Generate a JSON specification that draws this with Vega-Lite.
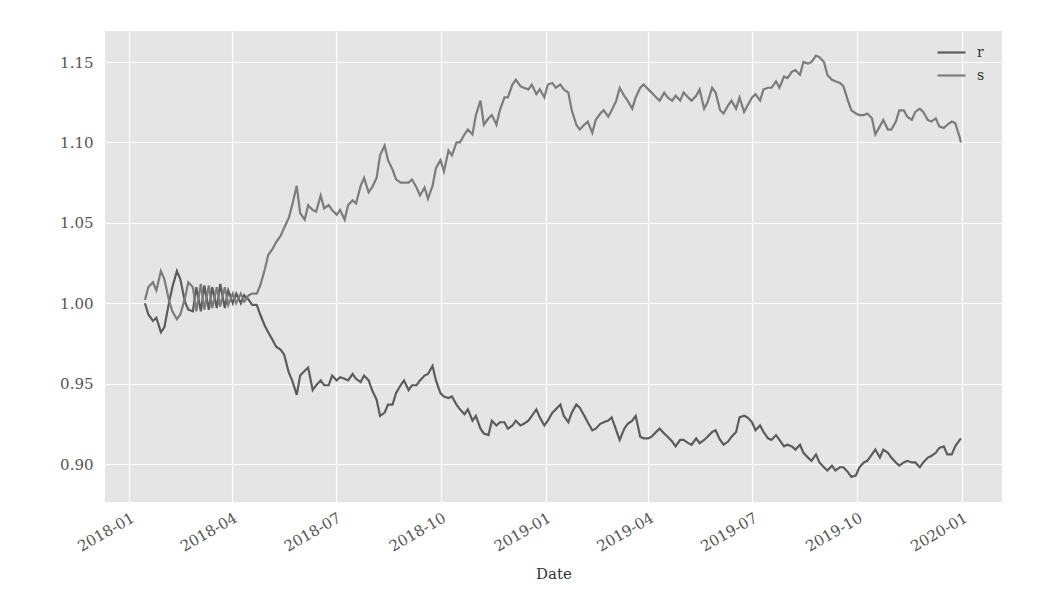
{
  "$schema": "https://vega.github.io/schema/vega-lite/v6.json",
  "autosize": {"type": "none"},
  "width": 897,
  "height": 471,
  "padding": {"left": 105, "top": 31, "right": 42, "bottom": 99},
  "background": "white",
  "config": {
    "view": {"fill": "#E5E5E5", "stroke": null},
    "font": "DejaVu Serif",
    "axis": {"gridColor": "white", "gridWidth": 1.2, "domain": false, "ticks": false, "labelColor": "#555555", "labelFontSize": 15, "titleFontSize": 15, "titleFontWeight": "normal", "titleColor": "#333333"}
  },
  "data": {"values": [
    {"Date":"2018-01-15","s":1.002,"r":1.000},
    {"Date":"2018-01-18","s":1.010,"r":0.993},
    {"Date":"2018-01-22","s":1.013,"r":0.989},
    {"Date":"2018-01-25","s":1.008,"r":0.991},
    {"Date":"2018-01-29","s":1.020,"r":0.982},
    {"Date":"2018-02-01","s":1.015,"r":0.985},
    {"Date":"2018-02-05","s":1.002,"r":1.000},
    {"Date":"2018-02-08","s":0.995,"r":1.010},
    {"Date":"2018-02-12","s":0.990,"r":1.020},
    {"Date":"2018-02-15","s":0.993,"r":1.015},
    {"Date":"2018-02-19","s":1.003,"r":1.001},
    {"Date":"2018-02-22","s":1.013,"r":0.996},
    {"Date":"2018-02-26","s":1.010,"r":0.995},
    {"Date":"2018-03-01","s":0.995,"r":1.010},
    {"Date":"2018-03-05","s":1.012,"r":0.995},
    {"Date":"2018-03-08","s":0.996,"r":1.011},
    {"Date":"2018-03-12","s":1.011,"r":0.996},
    {"Date":"2018-03-15","s":0.997,"r":1.010},
    {"Date":"2018-03-19","s":1.010,"r":0.997},
    {"Date":"2018-03-22","s":0.998,"r":1.012},
    {"Date":"2018-03-26","s":1.010,"r":0.997},
    {"Date":"2018-03-29","s":0.999,"r":1.008},
    {"Date":"2018-04-02","s":1.006,"r":1.000},
    {"Date":"2018-04-05","s":1.000,"r":1.006},
    {"Date":"2018-04-09","s":1.006,"r":1.000},
    {"Date":"2018-04-12","s":1.001,"r":1.005},
    {"Date":"2018-04-16","s":1.005,"r":1.002},
    {"Date":"2018-04-19","s":1.006,"r":0.999},
    {"Date":"2018-04-23","s":1.006,"r":0.999},
    {"Date":"2018-04-26","s":1.011,"r":0.993},
    {"Date":"2018-04-30","s":1.021,"r":0.986},
    {"Date":"2018-05-03","s":1.030,"r":0.982},
    {"Date":"2018-05-07","s":1.034,"r":0.977},
    {"Date":"2018-05-10","s":1.038,"r":0.973},
    {"Date":"2018-05-14","s":1.042,"r":0.971},
    {"Date":"2018-05-17","s":1.047,"r":0.968},
    {"Date":"2018-05-21","s":1.053,"r":0.957},
    {"Date":"2018-05-24","s":1.061,"r":0.952},
    {"Date":"2018-05-28","s":1.073,"r":0.943},
    {"Date":"2018-05-31","s":1.056,"r":0.955},
    {"Date":"2018-06-04","s":1.052,"r":0.958},
    {"Date":"2018-06-07","s":1.061,"r":0.960},
    {"Date":"2018-06-11","s":1.058,"r":0.946},
    {"Date":"2018-06-14","s":1.057,"r":0.949},
    {"Date":"2018-06-18","s":1.067,"r":0.952},
    {"Date":"2018-06-21","s":1.059,"r":0.949},
    {"Date":"2018-06-25","s":1.061,"r":0.949},
    {"Date":"2018-06-28","s":1.058,"r":0.955},
    {"Date":"2018-07-02","s":1.055,"r":0.952},
    {"Date":"2018-07-05","s":1.058,"r":0.954},
    {"Date":"2018-07-09","s":1.052,"r":0.953},
    {"Date":"2018-07-12","s":1.061,"r":0.952},
    {"Date":"2018-07-16","s":1.064,"r":0.956},
    {"Date":"2018-07-19","s":1.062,"r":0.953},
    {"Date":"2018-07-23","s":1.073,"r":0.951},
    {"Date":"2018-07-26","s":1.078,"r":0.955},
    {"Date":"2018-07-30","s":1.069,"r":0.952},
    {"Date":"2018-08-02","s":1.072,"r":0.946},
    {"Date":"2018-08-06","s":1.078,"r":0.940},
    {"Date":"2018-08-09","s":1.092,"r":0.930},
    {"Date":"2018-08-13","s":1.098,"r":0.932},
    {"Date":"2018-08-16","s":1.089,"r":0.937},
    {"Date":"2018-08-20","s":1.083,"r":0.937},
    {"Date":"2018-08-23","s":1.077,"r":0.944},
    {"Date":"2018-08-27","s":1.075,"r":0.949},
    {"Date":"2018-08-30","s":1.075,"r":0.952},
    {"Date":"2018-09-03","s":1.075,"r":0.946},
    {"Date":"2018-09-06","s":1.077,"r":0.949},
    {"Date":"2018-09-10","s":1.072,"r":0.949},
    {"Date":"2018-09-13","s":1.067,"r":0.952},
    {"Date":"2018-09-17","s":1.072,"r":0.955},
    {"Date":"2018-09-20","s":1.065,"r":0.956},
    {"Date":"2018-09-24","s":1.073,"r":0.961},
    {"Date":"2018-09-27","s":1.084,"r":0.952},
    {"Date":"2018-10-01","s":1.089,"r":0.944},
    {"Date":"2018-10-04","s":1.082,"r":0.942},
    {"Date":"2018-10-08","s":1.095,"r":0.941},
    {"Date":"2018-10-11","s":1.092,"r":0.942},
    {"Date":"2018-10-15","s":1.100,"r":0.937},
    {"Date":"2018-10-18","s":1.100,"r":0.934},
    {"Date":"2018-10-22","s":1.105,"r":0.931},
    {"Date":"2018-10-25","s":1.108,"r":0.934},
    {"Date":"2018-10-29","s":1.105,"r":0.927},
    {"Date":"2018-11-01","s":1.117,"r":0.930},
    {"Date":"2018-11-05","s":1.126,"r":0.922},
    {"Date":"2018-11-08","s":1.111,"r":0.919},
    {"Date":"2018-11-12","s":1.115,"r":0.918},
    {"Date":"2018-11-15","s":1.117,"r":0.927},
    {"Date":"2018-11-19","s":1.111,"r":0.924},
    {"Date":"2018-11-22","s":1.120,"r":0.926},
    {"Date":"2018-11-26","s":1.128,"r":0.926},
    {"Date":"2018-11-29","s":1.128,"r":0.922},
    {"Date":"2018-12-03","s":1.136,"r":0.924},
    {"Date":"2018-12-06","s":1.139,"r":0.927},
    {"Date":"2018-12-10","s":1.135,"r":0.924},
    {"Date":"2018-12-13","s":1.134,"r":0.925},
    {"Date":"2018-12-17","s":1.133,"r":0.927},
    {"Date":"2018-12-20","s":1.136,"r":0.930},
    {"Date":"2018-12-24","s":1.130,"r":0.934},
    {"Date":"2018-12-27","s":1.133,"r":0.929},
    {"Date":"2018-12-31","s":1.128,"r":0.924},
    {"Date":"2019-01-03","s":1.136,"r":0.927},
    {"Date":"2019-01-07","s":1.137,"r":0.932},
    {"Date":"2019-01-10","s":1.134,"r":0.934},
    {"Date":"2019-01-14","s":1.136,"r":0.937},
    {"Date":"2019-01-17","s":1.133,"r":0.930},
    {"Date":"2019-01-21","s":1.131,"r":0.926},
    {"Date":"2019-01-24","s":1.120,"r":0.932},
    {"Date":"2019-01-28","s":1.111,"r":0.937},
    {"Date":"2019-01-31","s":1.108,"r":0.935},
    {"Date":"2019-02-04","s":1.111,"r":0.930},
    {"Date":"2019-02-07","s":1.113,"r":0.926},
    {"Date":"2019-02-11","s":1.106,"r":0.921},
    {"Date":"2019-02-14","s":1.114,"r":0.922},
    {"Date":"2019-02-18","s":1.118,"r":0.925},
    {"Date":"2019-02-21","s":1.120,"r":0.926},
    {"Date":"2019-02-25","s":1.116,"r":0.927},
    {"Date":"2019-02-28","s":1.120,"r":0.929},
    {"Date":"2019-03-04","s":1.126,"r":0.921},
    {"Date":"2019-03-07","s":1.134,"r":0.915},
    {"Date":"2019-03-11","s":1.129,"r":0.922},
    {"Date":"2019-03-14","s":1.126,"r":0.925},
    {"Date":"2019-03-18","s":1.121,"r":0.927},
    {"Date":"2019-03-21","s":1.128,"r":0.930},
    {"Date":"2019-03-25","s":1.134,"r":0.917},
    {"Date":"2019-03-28","s":1.136,"r":0.916},
    {"Date":"2019-04-01","s":1.133,"r":0.916},
    {"Date":"2019-04-04","s":1.131,"r":0.917},
    {"Date":"2019-04-08","s":1.128,"r":0.920},
    {"Date":"2019-04-11","s":1.126,"r":0.922},
    {"Date":"2019-04-15","s":1.131,"r":0.919},
    {"Date":"2019-04-18","s":1.128,"r":0.917},
    {"Date":"2019-04-22","s":1.126,"r":0.914},
    {"Date":"2019-04-25","s":1.129,"r":0.911},
    {"Date":"2019-04-29","s":1.126,"r":0.915},
    {"Date":"2019-05-02","s":1.131,"r":0.915},
    {"Date":"2019-05-06","s":1.128,"r":0.913},
    {"Date":"2019-05-09","s":1.126,"r":0.912},
    {"Date":"2019-05-13","s":1.129,"r":0.916},
    {"Date":"2019-05-16","s":1.133,"r":0.913},
    {"Date":"2019-05-20","s":1.121,"r":0.915},
    {"Date":"2019-05-23","s":1.125,"r":0.917},
    {"Date":"2019-05-27","s":1.134,"r":0.920},
    {"Date":"2019-05-30","s":1.131,"r":0.921},
    {"Date":"2019-06-03","s":1.120,"r":0.915},
    {"Date":"2019-06-06","s":1.118,"r":0.912},
    {"Date":"2019-06-10","s":1.123,"r":0.914},
    {"Date":"2019-06-13","s":1.126,"r":0.917},
    {"Date":"2019-06-17","s":1.121,"r":0.920},
    {"Date":"2019-06-20","s":1.128,"r":0.929},
    {"Date":"2019-06-24","s":1.119,"r":0.930},
    {"Date":"2019-06-27","s":1.123,"r":0.929},
    {"Date":"2019-07-01","s":1.128,"r":0.926},
    {"Date":"2019-07-04","s":1.130,"r":0.921},
    {"Date":"2019-07-08","s":1.126,"r":0.924},
    {"Date":"2019-07-11","s":1.133,"r":0.920},
    {"Date":"2019-07-15","s":1.134,"r":0.916},
    {"Date":"2019-07-18","s":1.134,"r":0.915},
    {"Date":"2019-07-22","s":1.138,"r":0.918},
    {"Date":"2019-07-25","s":1.134,"r":0.915},
    {"Date":"2019-07-29","s":1.141,"r":0.911},
    {"Date":"2019-08-01","s":1.140,"r":0.912},
    {"Date":"2019-08-05","s":1.144,"r":0.911},
    {"Date":"2019-08-08","s":1.145,"r":0.909},
    {"Date":"2019-08-12","s":1.142,"r":0.912},
    {"Date":"2019-08-15","s":1.150,"r":0.907},
    {"Date":"2019-08-19","s":1.149,"r":0.904},
    {"Date":"2019-08-22","s":1.150,"r":0.902},
    {"Date":"2019-08-26","s":1.154,"r":0.906},
    {"Date":"2019-08-29","s":1.153,"r":0.901},
    {"Date":"2019-09-02","s":1.150,"r":0.898},
    {"Date":"2019-09-05","s":1.142,"r":0.896},
    {"Date":"2019-09-09","s":1.139,"r":0.899},
    {"Date":"2019-09-12","s":1.138,"r":0.896},
    {"Date":"2019-09-16","s":1.137,"r":0.898},
    {"Date":"2019-09-19","s":1.135,"r":0.898},
    {"Date":"2019-09-23","s":1.126,"r":0.895},
    {"Date":"2019-09-26","s":1.120,"r":0.892},
    {"Date":"2019-09-30","s":1.118,"r":0.893},
    {"Date":"2019-10-03","s":1.117,"r":0.898},
    {"Date":"2019-10-07","s":1.117,"r":0.901},
    {"Date":"2019-10-10","s":1.118,"r":0.902},
    {"Date":"2019-10-14","s":1.115,"r":0.906},
    {"Date":"2019-10-17","s":1.105,"r":0.909},
    {"Date":"2019-10-21","s":1.110,"r":0.904},
    {"Date":"2019-10-24","s":1.114,"r":0.909},
    {"Date":"2019-10-28","s":1.108,"r":0.907},
    {"Date":"2019-10-31","s":1.108,"r":0.904},
    {"Date":"2019-11-04","s":1.113,"r":0.901},
    {"Date":"2019-11-07","s":1.120,"r":0.899},
    {"Date":"2019-11-11","s":1.120,"r":0.901},
    {"Date":"2019-11-14","s":1.116,"r":0.902},
    {"Date":"2019-11-18","s":1.114,"r":0.901},
    {"Date":"2019-11-21","s":1.119,"r":0.901},
    {"Date":"2019-11-25","s":1.121,"r":0.898},
    {"Date":"2019-11-28","s":1.119,"r":0.901},
    {"Date":"2019-12-02","s":1.114,"r":0.904},
    {"Date":"2019-12-05","s":1.113,"r":0.905},
    {"Date":"2019-12-09","s":1.115,"r":0.907},
    {"Date":"2019-12-12","s":1.110,"r":0.910},
    {"Date":"2019-12-16","s":1.109,"r":0.911},
    {"Date":"2019-12-19","s":1.111,"r":0.906},
    {"Date":"2019-12-23","s":1.113,"r":0.906},
    {"Date":"2019-12-26","s":1.112,"r":0.911},
    {"Date":"2019-12-30","s":1.103,"r":0.915},
    {"Date":"2019-12-31","s":1.100,"r":0.916}
  ]},
  "transform": [{"fold": ["r", "s"], "as": ["series", "value"]}],
  "mark": {"type": "line", "strokeWidth": 2.2, "clip": true},
  "encoding": {
    "x": {
      "field": "Date", "type": "temporal", "title": "Date",
      "scale": {"type": "utc", "domain": [{"year": 2017, "month": 12, "date": 11, "utc": true}, {"year": 2020, "month": 2, "date": 5, "utc": true}]},
      "axis": {
        "values": [
          {"year": 2018, "month": 1, "date": 1, "utc": true},
          {"year": 2018, "month": 4, "date": 1, "utc": true},
          {"year": 2018, "month": 7, "date": 1, "utc": true},
          {"year": 2018, "month": 10, "date": 1, "utc": true},
          {"year": 2019, "month": 1, "date": 1, "utc": true},
          {"year": 2019, "month": 4, "date": 1, "utc": true},
          {"year": 2019, "month": 7, "date": 1, "utc": true},
          {"year": 2019, "month": 10, "date": 1, "utc": true},
          {"year": 2020, "month": 1, "date": 1, "utc": true}
        ],
        "format": "%Y-%m", "labelAngle": -30, "labelAlign": "right", "labelBaseline": "top", "labelPadding": 8, "labelDx": -5, "titlePadding": 12, "labelFlush": false, "labelOverlap": false
      }
    },
    "y": {
      "field": "value", "type": "quantitative", "title": null,
      "scale": {"domain": [0.8764, 1.1693], "nice": false, "zero": false},
      "axis": {"values": [0.90, 0.95, 1.00, 1.05, 1.10, 1.15], "format": ".2f", "labelPadding": 12}
    },
    "color": {
      "field": "series", "type": "nominal",
      "scale": {"domain": ["r", "s"], "range": ["#5c5c5c", "#7c7c7c"]},
      "legend": {"title": null, "orient": "none", "legendX": 831, "legendY": 6, "symbolType": "stroke", "symbolSize": 784, "symbolStrokeWidth": 2.2, "labelFontSize": 14, "labelColor": "#333333", "rowPadding": 0, "labelOffset": 10}
    }
  }
}
